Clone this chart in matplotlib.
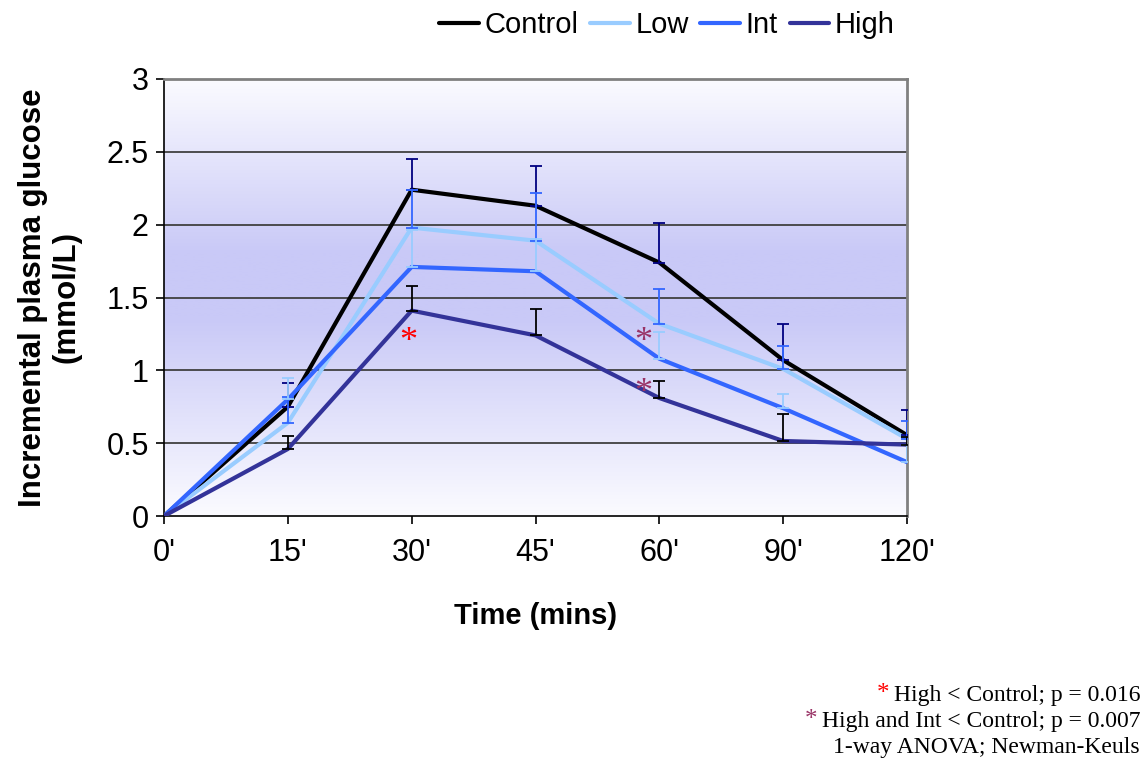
import numpy as np
import matplotlib
matplotlib.use("Agg")
import matplotlib.pyplot as plt
from matplotlib.colors import LinearSegmentedColormap

# data
times = ["0'", "15'", "30'", "45'", "60'", "90'", "120'"]
control = [0, 0.75, 2.24, 2.13, 1.74, 1.07, 0.555]
low = [0, 0.64, 1.98, 1.89, 1.32, 1.01, 0.53]
inter = [0, 0.80, 1.71, 1.68, 1.08, 0.74, 0.37]
high = [0, 0.46, 1.41, 1.24, 0.81, 0.515, 0.49]

control_err = [0, 0.16, 0.21, 0.27, 0.27, 0.25, 0.175]
low_err = [0, 0.18, 0.26, 0.33, 0.24, 0.16, 0.12]
inter_err = [0, 0.15, 0.25, 0.22, 0.18, 0.10, 0.12]
high_err = [0, 0.09, 0.17, 0.18, 0.12, 0.185, 0.05]

series = [
    ("Control", control, control_err, "#000000", "#000080"),
    ("Low", low, low_err, "#99ccff", "#3366ff"),
    ("Int", inter, inter_err, "#3366ff", "#99ccff"),
    ("High", high, high_err, "#333399", "#000000"),
]

plt.rcParams["font.family"] = ["Liberation Sans", "DejaVu Sans"]

fig = plt.figure(figsize=(11.44, 7.61), dpi=100)
ax = fig.add_axes([164 / 1144, 1 - 516 / 761, (907 - 164) / 1144, (516 - 79) / 761])

x = np.arange(len(times))

# plot area gradient: white top, lavender middle, white bottom
cmap = LinearSegmentedColormap.from_list(
    "bg", [(0.0, "#fbfbff"), (0.45, "#c9c9f7"), (0.6, "#c9c9f7"), (1.0, "#fbfbff")]
)
grad = np.linspace(1, 0, 256).reshape(-1, 1)
ax.imshow(grad, aspect="auto", cmap=cmap, extent=[0, 6, 0, 3], origin="upper", zorder=0)

for yv in [0.5, 1, 1.5, 2, 2.5, 3]:
    ax.axhline(yv, color="#404040", lw=1.3, zorder=1)

handles = []
for name, vals, err, col, ecol in series:
    (h,) = ax.plot(x, vals, color=col, lw=3.0, label=name, zorder=3, solid_capstyle="round")
    handles.append(h)

for name, vals, err, col, ecol in series:
    xe = x[1:]
    ve = np.array(vals)[1:]
    ee = np.array(err)[1:]
    ax.errorbar(xe, ve, yerr=[np.zeros_like(ee), ee], fmt="none", ecolor=ecol,
                elinewidth=1.3, capsize=4, capthick=1.3, zorder=4)

# significance asterisks
star_kw = dict(fontsize=26, family="Liberation Serif", ha="center", va="center", zorder=5)
ax.text(1.97, 1.19, "*", color="#ff0000", **star_kw)
ax.text(3.87, 1.19, "*", color="#993366", **star_kw)
ax.text(3.87, 0.84, "*", color="#993366", **star_kw)

ax.set_xlim(0, 6)
ax.set_ylim(0, 3)
ax.set_xticks(x)
ax.set_xticklabels(times)
ax.set_yticks([0, 0.5, 1, 1.5, 2, 2.5, 3])
ax.set_yticklabels(["0", "0.5", "1", "1.5", "2", "2.5", "3"])
ax.tick_params(axis="both", labelsize=22, direction="out", length=6, width=1.2, color="#000000")
ax.tick_params(axis="x", pad=10)
ax.tick_params(axis="y", pad=5)

ax.spines["left"].set_color("#000000")
ax.spines["bottom"].set_color("#000000")
ax.spines["left"].set_linewidth(1.2)
ax.spines["bottom"].set_linewidth(1.2)
ax.spines["top"].set_color("#808080")
ax.spines["right"].set_color("#808080")
ax.spines["top"].set_linewidth(2)
ax.spines["right"].set_linewidth(2)

ax.set_xlabel("Time (mins)", fontsize=21, fontweight="bold", labelpad=24)
ax.set_ylabel("Incremental plasma glucose\n(mmol/L)", fontsize=22.5, fontweight="bold",
              labelpad=18, linespacing=1.15)

fig.legend(handles=handles, loc="center", bbox_to_anchor=(667 / 1144, 1 - 25 / 761),
           ncol=4, frameon=False, fontsize=21, handlelength=1.35, handletextpad=0.2,
           columnspacing=0.4)

# footnote
notes = [
    ("High < Control; p = 0.016", "#ff0000", 695),
    ("High and Int < Control; p = 0.007", "#993366", 721),
    ("1-way ANOVA; Newman-Keuls", None, 748),
]
fig.canvas.draw()
renderer = fig.canvas.get_renderer()
for txt, star, ypix in notes:
    t = fig.text(1140 / 1144, 1 - ypix / 761, txt, ha="right", va="center",
                 fontsize=17, family="Liberation Serif", color="#000000")
    if star:
        bb = t.get_window_extent(renderer=renderer)
        fig.text((bb.x0 - 4) / 1144, 1 - (ypix - 1) / 761, "*", ha="right", va="center",
                 fontsize=18, family="Liberation Serif", color=star)

fig.savefig("out.png", dpi=100)
